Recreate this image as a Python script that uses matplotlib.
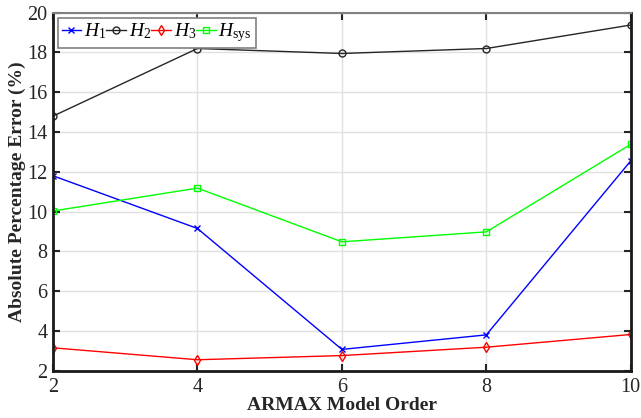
import numpy as np
import matplotlib
matplotlib.use("Agg")
import matplotlib.pyplot as plt

plt.rcParams['font.family'] = ['Liberation Serif', 'DejaVu Serif']
plt.rcParams['mathtext.fontset'] = 'custom'
plt.rcParams['mathtext.rm'] = 'Liberation Serif'
plt.rcParams['mathtext.it'] = 'Liberation Serif:italic'

orders = [2, 4, 6, 8, 10]
h1 = [11.8, 9.15, 3.07, 3.8, 12.55]
h2 = [14.8, 18.2, 17.95, 18.2, 19.38]
h3 = [3.15, 2.55, 2.76, 3.18, 3.82]
hsys = [10.03, 11.18, 8.48, 8.98, 13.38]

labels = [r'$\mathit{H}_\mathrm{1}$', r'$\mathit{H}_\mathrm{2}$',
          r'$\mathit{H}_\mathrm{3}$', r'$\mathit{H}_\mathrm{sys}$']

fig = plt.figure(figsize=(6.41, 4.18), dpi=100)
ax = fig.add_axes([0.0827, 0.1132, 0.984 - 0.0827, 0.9696 - 0.1132])

ax.plot(orders, h1, color='#0000ff', marker='x', ms=4, mew=1.0, lw=1.0, label=labels[0])
ax.plot(orders, h2, color='#262626', marker='o', ms=5, mfc='none', mew=1.0, lw=1.0, label=labels[1])
ax.plot(orders, h3, color='#ff0000', marker='d', ms=5, mfc='none', mew=1.0, lw=1.0, label=labels[2])
ax.plot(orders, hsys, color='#00ff00', marker='s', ms=4, mfc='none', mew=1.0, lw=1.0, label=labels[3])

ax.set_xlim(2, 10)
ax.set_ylim(2, 20)
ax.set_xticks(orders)
ax.set_yticks(np.arange(2, 21, 2))
ax.grid(True, color='#e0e0e0', lw=1.0)
ax.set_axisbelow(True)

ax.tick_params(direction='in', length=5, width=1.5, top=True, right=True,
               labelsize=14.5, colors='#262626', pad=4)
ax.tick_params(axis='x', pad=5)
for s in ['left', 'bottom', 'right']:
    ax.spines[s].set_linewidth(2.0)
    ax.spines[s].set_color('#1a1a1a')
ax.spines['top'].set_linewidth(1.5)
ax.spines['top'].set_color('#808080')

ax.set_xlabel('ARMAX Model Order', fontsize=14, fontweight='bold', color='#262626', labelpad=0)
ax.set_ylabel('Absolute Percentage Error (%)', fontsize=14, fontweight='bold', color='#262626', labelpad=1)

leg = ax.legend(loc='upper left', ncol=4, fontsize=14, handlelength=1.0, handletextpad=0.15,
                columnspacing=0.0, borderpad=0.2, borderaxespad=0.25, fancybox=False,
                framealpha=1.0, edgecolor='#808080')
leg.get_frame().set_linewidth(1.2)

fig.savefig('out.png', dpi=100)
